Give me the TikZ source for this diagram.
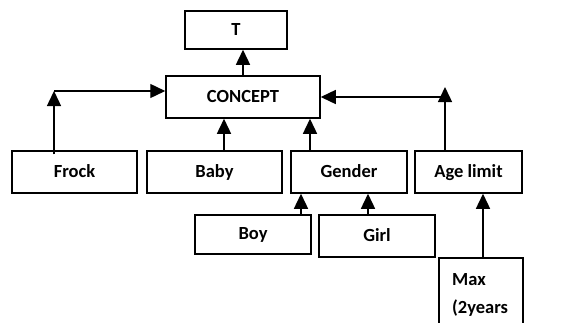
\documentclass[tikz,border=0pt]{standalone}
\usepackage{fontspec}
\setmainfont{Carlito}
\usetikzlibrary{arrows.meta}
\tikzset{
  box/.style={draw, line width=1.5pt, rectangle, inner sep=0pt,
    text height=12pt, text depth=2pt,
    font=\bfseries\fontsize{18.5}{22}\selectfont},
  arr/.style={line width=1.4pt, -{Triangle[width=14pt,length=15pt]}},
}
\begin{document}
\begin{tikzpicture}[x=1pt,y=-1pt]
\useasboundingbox (0,0) rectangle (584,322);
% top and middle
\node (t) [box, minimum width=102, minimum height=38] at (236,30) {T};
\node (concept) [box, minimum width=154, minimum height=42] at (243,97) {CONCEPT};
% first row
\node (frock) [box, minimum width=125, minimum height=42] at (74.5,172) {Frock};
\node (baby) [box, minimum width=135, minimum height=42] at (214.5,172) {Baby};
\node (gender) [box, minimum width=116, minimum height=42] at (349,172) {Gender};
\node (age) [box, minimum width=107, minimum height=42] at (468.5,172) {Age limit};
% second row
\node (boy) [box, minimum width=116, minimum height=39] at (253,234.5) {Boy};
\node (girl) [box, minimum width=116, minimum height=42] at (377,236) {Girl};
\node (max) [box, minimum width=84, minimum height=70, anchor=north west] at (438,257) {};
\node (maxtext) [anchor=base west, align=left, inner sep=0pt,
  font=\bfseries\fontsize{18.5}{28}\selectfont] at (452,313) {Max\\(2years};
% connectors
\coordinate (fk) at (54,91);
\coordinate (agtip) at (445,87);
\coordinate (agcorner) at (445,97);
\draw[arr] (concept.north) -- (t.south -| concept.north);
\draw[arr] ([yshift=-4pt]frock.north -| fk) -- (fk);
\draw[arr] (fk) -- (concept.west |- fk);
\draw[arr] (age.north -| agtip) -- (agtip);
\draw[arr] (agcorner) -- (concept.east |- agcorner);
\draw[arr] (baby.north -| 224,0) -- (concept.south -| 224,0);
\draw[arr] (gender.north -| 310,0) -- (concept.south -| 310,0);
\draw[arr] (boy.north -| 301,0) -- (gender.south -| 301,0);
\draw[arr] (girl.north -| 368,0) -- (gender.south -| 368,0);
\draw[arr] (max.north -| 483,0) -- (age.south -| 483,0);
\end{tikzpicture}
\end{document}
